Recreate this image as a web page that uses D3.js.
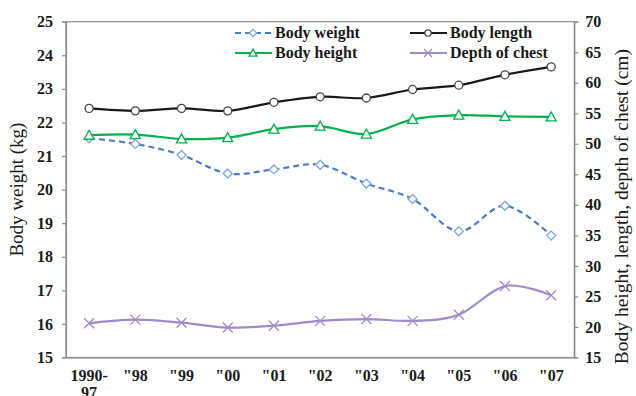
<!DOCTYPE html>
<html>
<head>
<meta charset="utf-8">
<script src="https://cdn.jsdelivr.net/npm/d3@7"></script>
<style>
  html, body { margin: 0; padding: 0; background: #fff; }
  svg { display: block; }
</style>
</head>
<body>
<svg id="chart" width="636" height="396"></svg>
<script>
// Survey years (first entry spans 1990-97)
const categories = ["1990-\n97", "\"98", "\"99", "\"00", "\"01", "\"02", "\"03", "\"04", "\"05", "\"06", "\"07"];

// Body weight, kg (left axis)
const bodyWeight = [21.53, 21.36, 21.03, 20.48, 20.60, 20.74, 20.18, 19.72, 18.76, 19.52, 18.63];
// Body measurements, cm (right axis)
const bodyLength = [55.8, 55.4, 55.8, 55.4, 56.8, 57.7, 57.5, 58.9, 59.6, 61.3, 62.6];
const bodyHeight = [51.4, 51.5, 50.8, 51.0, 52.4, 52.9, 51.6, 54.0, 54.7, 54.5, 54.4];
const chestDepth = [20.6, 21.2, 20.7, 19.9, 20.2, 21.0, 21.3, 21.0, 22.0, 26.7, 25.2];

const leftTicks = [15, 16, 17, 18, 19, 20, 21, 22, 23, 24, 25];
const rightTicks = [15, 20, 25, 30, 35, 40, 45, 50, 55, 60, 65, 70];

const FONT = "'Liberation Serif', 'Times New Roman', serif";
const svg = d3.select("#chart");
const plot = { left: 66, right: 574.3, top: 21.7, bottom: 357.5 };
const axisColor = "#8c8c8c";

const x = d3.scaleBand().domain(categories).range([plot.left, plot.right]);
const cx = d => x(d) + x.bandwidth() / 2;
const yL = d3.scaleLinear().domain([15, 25]).range([plot.bottom, plot.top]);
const yR = d3.scaleLinear().domain([15, 70]).range([plot.bottom, plot.top]);

// Plot frame
svg.append("rect")
  .attr("x", plot.left).attr("y", plot.top)
  .attr("width", plot.right - plot.left).attr("height", plot.bottom - plot.top)
  .attr("fill", "none").attr("stroke", axisColor).attr("stroke-width", 1.2);

// Left axis
const gL = svg.append("g").attr("transform", `translate(${plot.left},0)`)
  .call(d3.axisLeft(yL).tickValues(leftTicks).tickSize(4).tickPadding(9).tickFormat(d3.format("d")));
// Right axis
const gR = svg.append("g").attr("transform", `translate(${plot.right},0)`)
  .call(d3.axisRight(yR).tickValues(rightTicks).tickSize(4).tickPadding(7).tickFormat(d3.format("d")));
// Bottom axis (labels only)
const gB = svg.append("g").attr("transform", `translate(0,${plot.bottom})`)
  .call(d3.axisBottom(x).tickSize(0).tickPadding(0).tickFormat(""));

[gL, gR, gB].forEach(g => {
  g.attr("font-family", FONT).attr("font-size", 16);
  g.select(".domain").attr("stroke", axisColor).attr("stroke-width", 1.2);
  g.selectAll(".tick line").attr("stroke", axisColor).attr("stroke-width", 1.2);
  g.selectAll(".tick text")
    .style("font-family", FONT)
    .style("font-size", "16px").style("font-weight", "bold").attr("fill", "#1a1a1a");
});

// Two-line category labels
gB.selectAll(".tick").each(function (d) {
  const t = d3.select(this).select("text").attr("y", 0).attr("dy", null);
  d.split("\n").forEach((line, i) => {
    t.append("tspan").attr("x", 0).attr("y", 23 + i * 17).text(line);
  });
});

// Axis titles
svg.append("text")
  .attr("transform", `translate(23,${(plot.top + plot.bottom) / 2}) rotate(-90)`)
  .attr("text-anchor", "middle")
  .style("font-family", FONT).style("font-size", "19px").attr("fill", "#1a1a1a")
  .text("Body weight (kg)");
svg.append("text")
  .attr("transform", `translate(628,${(plot.top + plot.bottom) / 2 + 17}) rotate(-90)`)
  .attr("text-anchor", "middle")
  .style("font-family", FONT).style("font-size", "19.5px").attr("fill", "#1a1a1a")
  .text("Body height, length, depth of chest (cm)");

// Series definitions
const series = [
  { name: "Body weight", values: bodyWeight, y: yL, color: "#4a7ec6", dash: "6,4", marker: "diamond" },
  { name: "Body length", values: bodyLength, y: yR, color: "#1a1a1a", dash: null, marker: "circle" },
  { name: "Body height", values: bodyHeight, y: yR, color: "#00b04f", dash: null, marker: "triangle" },
  { name: "Depth of chest", values: chestDepth, y: yR, color: "#9f8bc9", dash: null, marker: "cross" }
];

function drawMarker(g, type, color, px, py, s = 1) {
  if (type === "diamond") {
    const r = 4.5 * s;
    g.append("path").attr("d", `M${px},${py - r}L${px + r},${py}L${px},${py + r}L${px - r},${py}Z`)
      .attr("fill", "#fff").attr("stroke", "#7fa6dc").attr("stroke-width", 1.3);
  } else if (type === "circle") {
    g.append("circle").attr("cx", px).attr("cy", py).attr("r", 4 * s)
      .attr("fill", "#fff").attr("stroke", "#444").attr("stroke-width", 1.3);
  } else if (type === "triangle") {
    const r = 5 * s;
    g.append("path").attr("d", `M${px},${py - r}L${px + r},${py + 0.8 * r}L${px - r},${py + 0.8 * r}Z`)
      .attr("fill", "#fff").attr("stroke", color).attr("stroke-width", 1.3);
  } else if (type === "cross") {
    const r = 5 * s;
    g.append("path").attr("d", `M${px - r},${py - r}L${px + r},${py + r}M${px - r},${py + r}L${px + r},${py - r}`)
      .attr("fill", "none").attr("stroke", color).attr("stroke-width", 1.3);
  }
}

series.forEach(s => {
  const g = svg.append("g");
  const line = d3.line()
    .x((v, i) => cx(categories[i]))
    .y(v => s.y(v))
    .curve(d3.curveCardinal.tension(0));
  g.append("path").datum(s.values).attr("d", line)
    .attr("fill", "none").attr("stroke", s.color).attr("stroke-width", 2.2)
    .attr("stroke-dasharray", s.dash);
  s.values.forEach((v, i) => drawMarker(g, s.marker, s.color, cx(categories[i]), s.y(v)));
});

// Legend, two columns by two rows
const legendPos = [[235, 33], [410, 33], [235, 53], [410, 53]];
series.forEach((s, k) => {
  const [lx, ly] = legendPos[k];
  const g = svg.append("g");
  g.append("line").attr("x1", lx).attr("x2", lx + 37).attr("y1", ly).attr("y2", ly)
    .attr("stroke", s.color).attr("stroke-width", 2).attr("stroke-dasharray", s.dash);
  drawMarker(g, s.marker, s.color, lx + 18, ly, 0.8);
  g.append("text").attr("x", lx + 40).attr("y", ly).attr("dy", "0.33em")
    .style("font-family", FONT).style("font-size", "16px").style("font-weight", "bold")
    .attr("fill", "#1a1a1a").text(s.name);
});
</script>
</body>
</html>
